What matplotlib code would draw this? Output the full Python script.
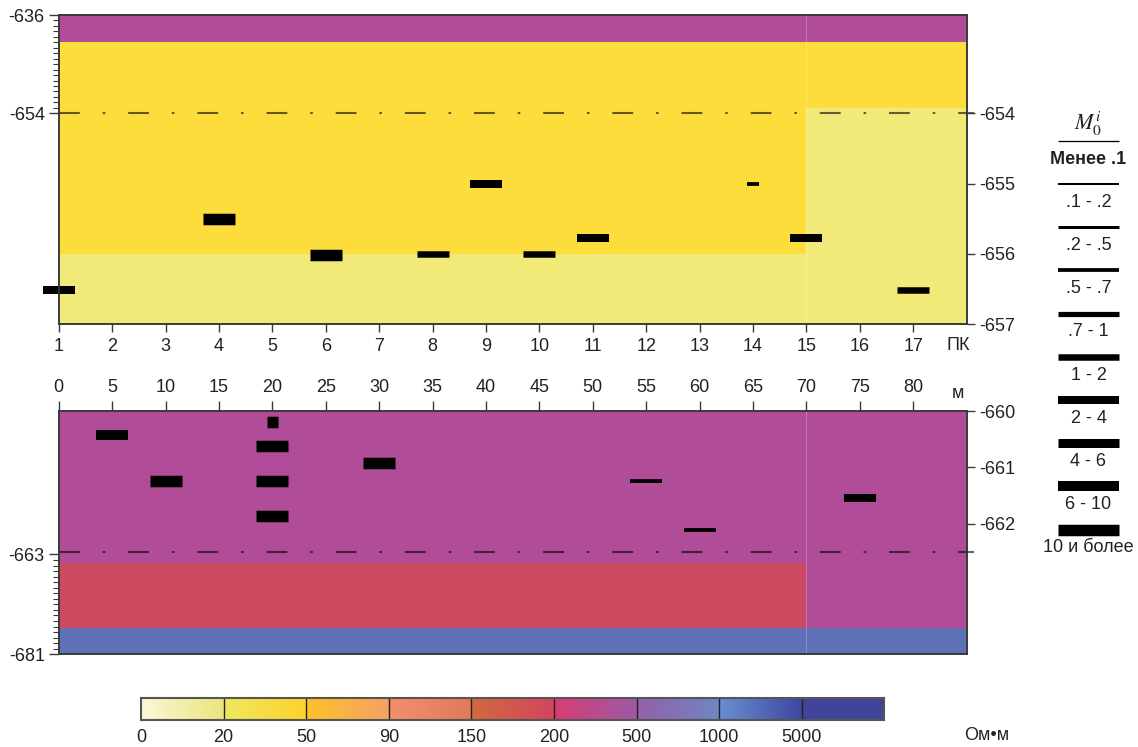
import numpy as np
import matplotlib
matplotlib.use('Agg')
import matplotlib.pyplot as plt
from matplotlib.colors import LinearSegmentedColormap

plt.rcParams['font.family'] = ['Liberation Sans', 'DejaVu Sans']
plt.rcParams['axes.unicode_minus'] = False
plt.rcParams['mathtext.fontset'] = 'stix'

# ---- data ----
pk_labels = list(range(1, 18))          # пикеты
m_ticks = list(range(0, 85, 5))         # метры
x_end = 85
boundary_m = 70

top_left_ticks = [-636, -654]
top_right_ticks = [-654, -655, -656, -657]
bot_left_ticks = [-663, -681]
bot_right_ticks = [-660, -661, -662]

# слои: x0, x1 (м), кровля, подошва, сопротивление
top_lay_x0 = [0, 0, 0, 70, 70]
top_lay_x1 = [85, 70, 70, 85, 85]
top_lay_top = [-636, -641, -656, -641, -653]
top_lay_bot = [-641, -656, -657, -653, -657]
top_lay_rho = [300, 35, 10, 35, 10]

bot_lay_x0 = [0, 0, 70, 0]
bot_lay_x1 = [70, 70, 85, 85]
bot_lay_top = [-660, -664.5, -660, -676.2]
bot_lay_bot = [-664.5, -676.2, -676.2, -681]
bot_lay_rho = [300, 180, 300, 2000]

# аномалии M0
top_bar_pk = [1, 4, 6, 8, 9, 10, 11, 14, 15, 17]
top_bar_depth = [-656.52, -655.51, -656.02, -656.0, -655.0, -656.0, -655.77, -655.0, -655.77, -656.52]
top_bar_len = [3, 3, 3, 3, 3, 3, 3, 1.1, 3, 3]
top_bar_class = [6, 9, 9, 5, 6, 5, 6, 3, 6, 5]

bot_bar_m = [5, 10, 20, 20, 20, 20, 30, 55, 60, 75]
bot_bar_depth = [-660.43, -661.24, -660.19, -660.62, -661.24, -661.86, -660.93, -661.24, -662.11, -661.55]
bot_bar_len = [3, 3, 1, 3, 3, 3, 3, 3, 3, 3]
bot_bar_class = [8, 9, 9, 9, 9, 9, 9, 3, 3, 6]

m0_classes = ['Менее .1', '.1 - .2', '.2 - .5', '.5 - .7', '.7 - 1',
              '1 - 2', '2 - 4', '4 - 6', '6 - 10', '10 и более']
rho_bounds = [0, 20, 50, 90, 150, 200, 500, 1000, 5000]
rho_unit = 'Ом•м'

# ---- styles ----
W, H = 1138, 747
class_lw_px = [1.3, 2, 3, 3.8, 5.2, 6.5, 8, 9, 10, 11.5]
seg_colors = [('#faf7d8', '#ece47e'), ('#f0e760', '#fdd22c'), ('#fdc12a', '#f4a265'),
              ('#f58e6c', '#e07a58'), ('#d06a42', '#d2455e'), ('#d83d74', '#9d5aa5'),
              ('#9560a8', '#6f86c4'), ('#6b8ed2', '#3f479f'), ('#40449a', '#40449a')]
layer_colors = {10: '#f1ea78', 35: '#fddd3b', 180: '#cb4a5f', 300: '#b14c98', 2000: '#5e71b6'}
frame_col = '#3a3a3a'
txt_col = '#222222'
fs = 13


def piecewise(knots, fracs):
    k = np.array(knots, float)
    f = np.array(fracs, float)

    def lin(v, a, b):
        v = np.asarray(v, float)
        out = np.interp(v, a, b)
        out = np.where(v < a[0], b[0] + (v - a[0]) * (b[1] - b[0]) / (a[1] - a[0]), out)
        out = np.where(v > a[-1], b[-1] + (v - a[-1]) * (b[-1] - b[-2]) / (a[-1] - a[-2]), out)
        return out
    return (lambda v: lin(v, k, f)), (lambda v: lin(v, f, k))


def px_axes(x0, y0, x1, y1):
    return fig.add_axes([x0 / W, 1 - y1 / H, (x1 - x0) / W, (y1 - y0) / H])


def setup_panel(ax, knots, fracs, left_t, left_minor, right_t, break_d,
                lx0, lx1, ltop, lbot, lrho, bx, bd, bl, bc):
    fwd, inv = piecewise(knots, fracs)
    ax.set_xlim(0, x_end)
    ax.set_yscale('function', functions=(fwd, inv))
    ax.set_ylim(knots[0], knots[-1])
    for x0, x1, t, b, r in zip(lx0, lx1, ltop, lbot, lrho):
        ax.fill_between([x0, x1], b, t, color=layer_colors[r], lw=0, zorder=1)
    ax.axvline(boundary_m, color='white', lw=0.7, alpha=0.25, zorder=2)
    ax.plot([0, 1.008], [break_d, break_d], transform=ax.get_yaxis_transform(),
            color='black', alpha=0.6, lw=1.5, ls=(0, (10, 11, 1.2, 11)),
            clip_on=False, zorder=3)
    for x, d, l, c in zip(bx, bd, bl, bc):
        ax.plot([x - l / 2, x + l / 2], [d, d], color='black', lw=class_lw_px[c] * 0.72,
                solid_capstyle='butt', clip_on=False, zorder=4)
    ax.set_yticks(left_t)
    ax.set_yticklabels([str(v) for v in left_t])
    ax.set_yticks(left_minor, minor=True)
    ax.tick_params(axis='y', which='major', length=7, width=1, pad=3,
                   labelsize=fs, colors=frame_col, labelcolor=txt_col)
    ax.tick_params(axis='y', which='minor', length=4, width=0.8, colors=frame_col)
    axr = ax.twinx()
    axr.set_yscale('function', functions=(fwd, inv))
    axr.set_ylim(knots[0], knots[-1])
    axr.set_yticks(right_t)
    axr.set_yticklabels([str(v) for v in right_t])
    axr.yaxis.set_minor_locator(matplotlib.ticker.NullLocator())
    axr.tick_params(axis='y', length=6, width=1, pad=3, labelsize=fs,
                    colors=frame_col, labelcolor=txt_col)
    for a in (ax, axr):
        for s in a.spines.values():
            s.set_color(frame_col)
            s.set_linewidth(1.2)
    return axr


fig = plt.figure(figsize=(W / 100, H / 100), dpi=100)

# верхняя панель (ПК)
ax_top = px_axes(58.7, 15, 966.7, 324)
top_bar_m = [(p - 1) * 5 for p in top_bar_pk]
setup_panel(ax_top, [-657, -654, -636], [0, 0.682, 1], top_left_ticks,
            list(range(-653, -636)), top_right_ticks, -654,
            top_lay_x0, top_lay_x1, top_lay_top, top_lay_bot, top_lay_rho,
            top_bar_m, top_bar_depth, top_bar_len, top_bar_class)
ax_top.set_xticks(m_ticks)
ax_top.set_xticklabels([str(p) for p in pk_labels])
ax_top.tick_params(axis='x', length=6, width=1, pad=4, labelsize=fs,
                   colors=frame_col, labelcolor=txt_col)
fig.text(958 / W, 1 - 346 / H, 'ПК', ha='center', va='center', fontsize=fs, color=txt_col)

# нижняя панель (м)
ax_bot = px_axes(58.7, 411, 966.7, 654.3)
setup_panel(ax_bot, [-681, -662.5, -660], [0, 0.4217, 1], bot_left_ticks,
            list(range(-680, -663)), bot_right_ticks, -662.5,
            bot_lay_x0, bot_lay_x1, bot_lay_top, bot_lay_bot, bot_lay_rho,
            bot_bar_m, bot_bar_depth, bot_bar_len, bot_bar_class)
ax_bot.xaxis.tick_top()
ax_bot.set_xticks(m_ticks)
ax_bot.set_xticklabels([str(m) for m in m_ticks])
ax_bot.tick_params(axis='x', length=7, width=1, pad=4, labelsize=fs,
                   colors=frame_col, labelcolor=txt_col)
fig.text(958 / W, 1 - 394 / H, 'м', ha='center', va='center', fontsize=fs, color=txt_col)

# легенда M0
ax_leg = fig.add_axes([0, 0, 1, 1], facecolor='none')
ax_leg.set_xlim(0, W)
ax_leg.set_ylim(H, 0)
ax_leg.axis('off')
ax_leg.text(1088.5, 124, r'$M_0^i$', ha='center', va='center', fontsize=16, color=txt_col)
for i, lab in enumerate(m0_classes):
    yb = 140.7 + i * 43.2
    ax_leg.plot([1058.3, 1119], [yb, yb], color='black', lw=class_lw_px[i] * 0.72,
                solid_capstyle='butt')
    ax_leg.text(1088.5, yb + 18.5, lab, ha='center', va='center', fontsize=fs,
                color=txt_col, fontweight='bold' if i == 0 else 'normal')

# шкала сопротивлений
ax_cb = px_axes(141, 697.7, 884.3, 719.7)
grad = np.linspace(0, 1, 64)[None, :]
for i, (c0, c1) in enumerate(seg_colors):
    cm = LinearSegmentedColormap.from_list('seg%d' % i, [c0, c1])
    ax_cb.imshow(grad, extent=[i, i + 1, 0, 1], cmap=cm, aspect='auto', zorder=1)
for i in range(1, len(seg_colors)):
    ax_cb.axvline(i, color='#222222', lw=1, zorder=2)
ax_cb.set_xlim(0, len(seg_colors))
ax_cb.set_ylim(0, 1)
ax_cb.set_yticks([])
ax_cb.set_xticks(range(len(rho_bounds)))
ax_cb.set_xticklabels([str(v) for v in rho_bounds])
ax_cb.tick_params(axis='x', length=0, pad=7, labelsize=fs, labelcolor=txt_col)
for s in ax_cb.spines.values():
    s.set_color('#555555')
    s.set_linewidth(1.5)
fig.text(987 / W, 1 - 736 / H, rho_unit, ha='center', va='center', fontsize=fs, color=txt_col)

fig.savefig('out.png', dpi=100, facecolor='white')
